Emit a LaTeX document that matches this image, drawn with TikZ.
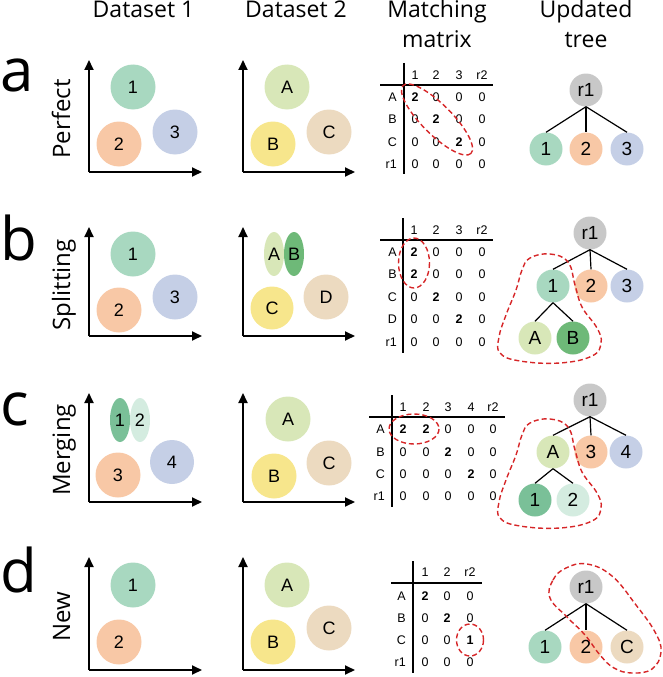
\documentclass[tikz,border=0pt]{standalone}
\usepackage{fontspec}
\setmainfont{Liberation Sans}
\newfontfamily\headfont{Open Sans}
\usetikzlibrary{arrows.meta,shapes.geometric}
\definecolor{cgreen}{RGB}{168,216,192}
\definecolor{corange}{RGB}{248,200,166}
\definecolor{cblue}{RGB}{197,207,230}
\definecolor{clgreen}{RGB}{216,231,184}
\definecolor{cyellow}{RGB}{247,230,140}
\definecolor{ctan}{RGB}{236,218,192}
\definecolor{cgray}{RGB}{200,200,200}
\definecolor{cdgreen}{RGB}{110,185,120}
\definecolor{cmgreen}{RGB}{122,192,152}
\definecolor{cpale}{RGB}{212,236,224}
\definecolor{cred}{RGB}{214,38,40}
\begin{document}
\begin{tikzpicture}[x=1pt,y=-1pt,
  head/.style={font=\headfont\fontsize{23}{30}\selectfont, align=center, inner sep=0pt, anchor=north},
  rowlab/.style={font=\headfont\fontsize{24}{30}\selectfont, rotate=90, anchor=base, inner sep=0pt},
  panel/.style={font=\headfont\fontsize{60}{60}\selectfont, anchor=base west, inner sep=0pt},
  blob/.style={circle, minimum size=45pt, inner sep=0pt, font=\fontsize{18}{18}\selectfont},
  oval/.style={ellipse, minimum width=20pt, minimum height=44pt, inner sep=0pt, font=\fontsize{18}{18}\selectfont},
  tnode/.style={circle, minimum size=33pt, inner sep=0pt, font=\fontsize{19}{19}\selectfont},
  mx/.style={font=\fontsize{12.5}{12.5}\selectfont, inner sep=0pt, text height=9pt, text depth=0pt},
  axis/.style={line width=1.8pt, -{Triangle[length=10pt,width=9pt]}},
  mline/.style={line width=1.6pt},
  edge/.style={line width=1.2pt},
  lasso/.style={draw=cred, line width=1.4pt, dash pattern=on 5pt off 3pt},
]
\useasboundingbox (0,0) rectangle (662,677);

% ---------- headers ----------
\node[head] (h1) at (143.5,1) {Dataset 1};
\node[head] (h2) at (296,1) {Dataset 2};
\node[head] (h3) at (437,0) {Matching\\matrix};
\node[head] (h4) at (586,0) {Updated\\tree};

% ---------- panel letters & row labels ----------
\node[panel] (pa) at (0.5,92) {a};
\node[panel] (pb) at (0.5,260) {b};
\node[panel] (pc) at (0.5,425) {c};
\node[panel] (pd) at (0.5,592) {d};
\node[rowlab] (ra) at (70,119) {Perfect};
\node[rowlab] (rb) at (70,285) {Splitting};
\node[rowlab] (rc) at (70,450) {Merging};
\node[rowlab] (rd) at (70,617) {New};

% ---------- axes ----------
\foreach \yb/\yt in {172/60, 336/227, 502/393, 670/557}{
  \draw[axis] (89,\yb) -- (89,\yt);
  \draw[axis] (89,\yb) -- (202,\yb);
  \draw[axis] (243,\yb) -- (243,\yt);
  \draw[axis] (243,\yb) -- (355,\yb);
}

% ---------- row a: perfect ----------
\node[blob, fill=cgreen]  (a1) at (133,87) {1};
\node[blob, fill=corange] (a2) at (119,144) {2};
\node[blob, fill=cblue]   (a3) at (175,132) {3};
\node[blob, fill=clgreen] (aA) at (287,87) {A};
\node[blob, fill=cyellow] (aB) at (273,144) {B};
\node[blob, fill=ctan]    (aC) at (329,132) {C};

\draw[mline] (404,63) -- (404,174);
\draw[mline] (380,85) -- (493,85);
\foreach \cx/\v [count=\i] in {415/1,436/2,459/3,482/r2} \node[mx] (mah\i) at (\cx,75) {\v};
\node[mx, anchor=east] (malA) at (397,97) {A};
\node[mx, anchor=east] (malB) at (397,119) {B};
\node[mx, anchor=east] (malC) at (397,142) {C};
\node[mx, anchor=east] (malr) at (397,164) {r1};
\foreach \cx/\v [count=\i] in {415/\textbf{2},436/0,459/0,482/0} \node[mx] (maA\i) at (\cx,97) {\v};
\foreach \cx/\v [count=\i] in {415/0,436/\textbf{2},459/0,482/0} \node[mx] (maB\i) at (\cx,119) {\v};
\foreach \cx/\v [count=\i] in {415/0,436/0,459/\textbf{2},482/0} \node[mx] (maC\i) at (\cx,142) {\v};
\foreach \cx/\v [count=\i] in {415/0,436/0,459/0,482/0} \node[mx] (mar\i) at (\cx,164) {\v};
\draw[lasso, rotate around={-45:(437,119.5)}] (437,119.5) ellipse [x radius=48, y radius=15];

\node[tnode, fill=cgray]   (ta-r) at (586,90) {r1};
\node[tnode, fill=cgreen]  (ta-1) at (546,149) {1};
\node[tnode, fill=corange] (ta-2) at (586,149) {2};
\node[tnode, fill=cblue]   (ta-3) at (627,149) {3};
\foreach \c in {1,2,3} \draw[edge] (ta-r.south) -- (ta-\c.north);

% ---------- row b: splitting ----------
\node[blob, fill=cgreen]  (b1) at (133,254) {1};
\node[blob, fill=corange] (b2) at (119,310) {2};
\node[blob, fill=cblue]   (b3) at (175,297) {3};
\node[oval, fill=clgreen] (bA) at (274,254) {A};
\node[oval, fill=cdgreen] (bB) at (294,254) {B};
\node[blob, fill=cyellow, minimum size=43pt] (bC) at (272,308) {C};
\node[blob, fill=ctan]    (bD) at (326,297) {D};

\draw[mline] (403,218) -- (403,353);
\draw[mline] (380,240) -- (493,240);
\foreach \cx/\v [count=\i] in {414/1,436/2,459/3,482/r2} \node[mx] (mbh\i) at (\cx,230) {\v};
\node[mx, anchor=east] (mblA) at (397,252) {A};
\node[mx, anchor=east] (mblB) at (397,274) {B};
\node[mx, anchor=east] (mblC) at (397,297) {C};
\node[mx, anchor=east] (mblD) at (397,319) {D};
\node[mx, anchor=east] (mblr) at (397,342) {r1};
\foreach \cx/\v [count=\i] in {414/\textbf{2},436/0,459/0,482/0} \node[mx] (mbA\i) at (\cx,252) {\v};
\foreach \cx/\v [count=\i] in {414/\textbf{2},436/0,459/0,482/0} \node[mx] (mbB\i) at (\cx,274) {\v};
\foreach \cx/\v [count=\i] in {414/0,436/\textbf{2},459/0,482/0} \node[mx] (mbC\i) at (\cx,297) {\v};
\foreach \cx/\v [count=\i] in {414/0,436/0,459/\textbf{2},482/0} \node[mx] (mbD\i) at (\cx,319) {\v};
\foreach \cx/\v [count=\i] in {414/0,436/0,459/0,482/0} \node[mx] (mbr\i) at (\cx,342) {\v};
\draw[lasso] (414,263) ellipse [x radius=15.5, y radius=25];

\node[tnode, fill=cgray]   (tb-r) at (590,233) {r1};
\node[tnode, fill=cgreen]  (tb-1) at (553,286) {1};
\node[tnode, fill=corange] (tb-2) at (591,286) {2};
\node[tnode, fill=cblue]   (tb-3) at (627,286) {3};
\node[tnode, fill=clgreen] (tb-A) at (535,338) {A};
\node[tnode, fill=cdgreen] (tb-B) at (573,338) {B};
\foreach \c in {1,2,3} \draw[edge] (tb-r.south) -- (tb-\c.north);
\foreach \c in {A,B} \draw[edge] (tb-1.south) -- (tb-\c.north);
\draw[lasso] plot[smooth cycle, tension=0.7] coordinates {(530,258) (550,254) (568,262) (575,285) (582,307) (597,328) (601,343) (592,356) (560,363) (520,361) (500,353) (499,337) (506,315) (516,290) (522,270)};

% ---------- row c: merging ----------
\node[oval, fill=cmgreen] (c1) at (120,420) {1};
\node[oval, fill=cpale]   (c2) at (140,420) {2};
\node[blob, fill=corange] (c3) at (118,475) {3};
\node[blob, fill=cblue, minimum size=44pt] (c4) at (172,462) {4};
\node[blob, fill=clgreen] (cA) at (288,419) {A};
\node[blob, fill=cyellow] (cB) at (274,476) {B};
\node[blob, fill=ctan]    (cC) at (329,463) {C};

\draw[mline] (392,395) -- (392,507);
\draw[mline] (369,417) -- (505,417);
\foreach \cx/\v [count=\i] in {403/1,426/2,448/3,471/4,493/r2} \node[mx] (mch\i) at (\cx,407) {\v};
\node[mx, anchor=east] (mclA) at (385,429) {A};
\node[mx, anchor=east] (mclB) at (385,452) {B};
\node[mx, anchor=east] (mclC) at (385,474) {C};
\node[mx, anchor=east] (mclr) at (385,496) {r1};
\foreach \cx/\v [count=\i] in {403/\textbf{2},426/\textbf{2},448/0,471/0,493/0} \node[mx] (mcA\i) at (\cx,429) {\v};
\foreach \cx/\v [count=\i] in {403/0,426/0,448/\textbf{2},471/0,493/0} \node[mx] (mcB\i) at (\cx,452) {\v};
\foreach \cx/\v [count=\i] in {403/0,426/0,448/0,471/\textbf{2},493/0} \node[mx] (mcC\i) at (\cx,474) {\v};
\foreach \cx/\v [count=\i] in {403/0,426/0,448/0,471/0,493/0} \node[mx] (mcr\i) at (\cx,496) {\v};
\draw[lasso] (414,429) ellipse [x radius=25, y radius=15];

\node[tnode, fill=cgray]   (tc-r) at (590,400) {r1};
\node[tnode, fill=clgreen] (tc-A) at (553,452) {A};
\node[tnode, fill=corange] (tc-3) at (591,452) {3};
\node[tnode, fill=cblue]   (tc-4) at (626,452) {4};
\node[tnode, fill=cmgreen] (tc-1) at (535,500) {1};
\node[tnode, fill=cpale]   (tc-2) at (573,500) {2};
\foreach \c in {A,3,4} \draw[edge] (tc-r.south) -- (tc-\c.north);
\foreach \c in {1,2} \draw[edge] (tc-A.south) -- (tc-\c.north);
\draw[lasso] plot[smooth cycle, tension=0.7] coordinates {(530,423) (550,419) (568,427) (575,450) (582,472) (597,493) (601,508) (592,521) (560,528) (520,526) (500,518) (499,502) (506,480) (516,455) (522,435)};

% ---------- row d: new ----------
\node[blob, fill=cgreen]  (d1) at (133,585) {1};
\node[blob, fill=corange] (d2) at (119,642) {2};
\node[blob, fill=clgreen] (dA) at (287,585) {A};
\node[blob, fill=cyellow] (dB) at (273,642) {B};
\node[blob, fill=ctan]    (dC) at (329,628) {C};

\draw[mline] (413,561) -- (413,673);
\draw[mline] (391,583) -- (482,583);
\foreach \cx/\v [count=\i] in {425/1,447/2,470/r2} \node[mx] (mdh\i) at (\cx,572) {\v};
\node[mx, anchor=east] (mdlA) at (406,596) {A};
\node[mx, anchor=east] (mdlB) at (406,618) {B};
\node[mx, anchor=east] (mdlC) at (406,640) {C};
\node[mx, anchor=east] (mdlr) at (406,662) {r1};
\foreach \cx/\v [count=\i] in {425/\textbf{2},447/0,470/0} \node[mx] (mdA\i) at (\cx,596) {\v};
\foreach \cx/\v [count=\i] in {425/0,447/\textbf{2},470/0} \node[mx] (mdB\i) at (\cx,618) {\v};
\foreach \cx/\v [count=\i] in {425/0,447/0,470/\textbf{1}} \node[mx] (mdC\i) at (\cx,640) {\v};
\foreach \cx/\v [count=\i] in {425/0,447/0,470/0} \node[mx] (mdr\i) at (\cx,662) {\v};
\draw[lasso] (470,640) ellipse [x radius=13.5, y radius=16];

\node[tnode, fill=cgray]   (td-r) at (586,587) {r1};
\node[tnode, fill=cgreen]  (td-1) at (545,647) {1};
\node[tnode, fill=corange] (td-2) at (586,647) {2};
\node[tnode, fill=ctan]    (td-C) at (627,647) {C};
\foreach \c in {1,2,C} \draw[edge] (td-r.south) -- (td-\c.north);
\draw[lasso] plot[smooth cycle, tension=0.7] coordinates {(550,598) (553,580) (566,568) (587,564) (612,576) (636,605) (655,632) (661,652) (652,669) (632,673) (614,668) (600,655) (585,635) (567,617)};
\end{tikzpicture}
\end{document}
